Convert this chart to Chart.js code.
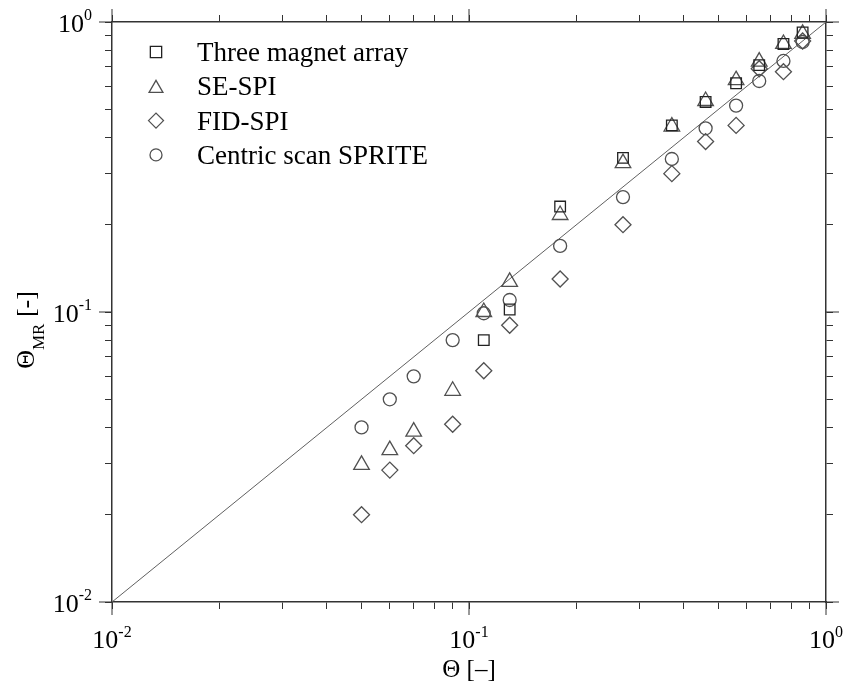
<!DOCTYPE html>
<html>
<head>
<meta charset="utf-8">
<script src="https://cdn.jsdelivr.net/npm/chart.js@4.4.1/dist/chart.umd.min.js"></script>
<style>
  html, body { margin: 0; padding: 0; background: #fff; }
  canvas { display: block; }
</style>
</head>
<body>
<canvas id="chart" width="848" height="688"></canvas>
<script>
// values
const seriesNames = ['Three magnet array', 'SE-SPI', 'FID-SPI', 'Centric scan SPRITE'];
const xMagnet = [0.11, 0.13, 0.18, 0.27, 0.37, 0.46, 0.56, 0.65, 0.76, 0.86];
const yMagnet = [0.080, 0.102, 0.231, 0.340, 0.440, 0.530, 0.615, 0.710, 0.840, 0.920];
const xSeSpi = [0.05, 0.06, 0.07, 0.09, 0.11, 0.13, 0.18, 0.27, 0.37, 0.46, 0.56, 0.65, 0.76, 0.86];
const ySeSpi = [0.0297, 0.0334, 0.0387, 0.0535, 0.100, 0.127, 0.216, 0.326, 0.436, 0.534, 0.630, 0.730, 0.840, 0.910];
const xFidSpi = [0.05, 0.06, 0.07, 0.09, 0.11, 0.13, 0.18, 0.27, 0.37, 0.46, 0.56, 0.65, 0.76, 0.86];
const yFidSpi = [0.020, 0.0285, 0.0346, 0.041, 0.0627, 0.090, 0.130, 0.200, 0.300, 0.387, 0.440, 0.690, 0.674, 0.860];
const xSprite = [0.05, 0.06, 0.07, 0.09, 0.11, 0.13, 0.18, 0.27, 0.37, 0.46, 0.56, 0.65, 0.76, 0.86];
const ySprite = [0.040, 0.050, 0.060, 0.080, 0.099, 0.110, 0.169, 0.249, 0.337, 0.430, 0.515, 0.626, 0.734, 0.853];
const refLine = [0.01, 1];          // y = x
const decades = [0.01, 0.1, 1];
const decadeExp = ['-2', '-1', '0'];

const FONT = '"Liberation Serif", "Times New Roman", serif';
const AXIS = '#333';
const MARK = '#505050';

const pts = (xs, ys) => xs.map((x, i) => ({ x, y: ys[i] }));

const styles = [
  { pointStyle: 'rect', radius: 7.5, color: '#222', legendRadius: 8 },
  { pointStyle: 'triangle', radius: 9, color: MARK, legendRadius: 8 },
  { pointStyle: 'rectRot', radius: 8, color: MARK, legendRadius: 7.5 },
  { pointStyle: 'circle', radius: 6.5, color: MARK, legendRadius: 6 }
];
const seriesData = [pts(xMagnet, yMagnet), pts(xSeSpi, ySeSpi), pts(xFidSpi, yFidSpi), pts(xSprite, ySprite)];

// 1..9 x 10^n tick positions
function logTicks() {
  const t = [];
  for (let e = -2; e < 0; e++) for (let m = 1; m < 10; m++) t.push({ value: +(m * Math.pow(10, e)).toPrecision(3) });
  t.push({ value: 1 });
  return t;
}

function logAxis(position, size) {
  return {
    type: 'logarithmic',
    position,
    min: 0.01,
    max: 1,
    display: true,
    afterBuildTicks: (s) => { s.ticks = logTicks(); },
    afterFit: (s) => { if (s.isHorizontal()) s.height = size; else s.width = size; },
    border: { display: true, color: AXIS, width: 1.5 },
    grid: { drawOnChartArea: false, drawTicks: true, tickLength: 7, tickColor: AXIS, tickWidth: 1 },
    ticks: { display: false, autoSkip: false }
  };
}

const datasets = seriesNames.map((name, i) => ({
  label: name,
  data: seriesData[i],
  showLine: false,
  pointStyle: styles[i].pointStyle,
  pointRadius: styles[i].radius,
  pointBorderColor: styles[i].color,
  pointBackgroundColor: 'rgba(0,0,0,0)',
  pointBorderWidth: 1.3
}));
datasets.push({
  type: 'line',
  label: 'y = x',
  data: refLine.map(v => ({ x: v, y: v })),
  borderColor: '#606060',
  borderWidth: 1,
  pointRadius: 0
});

// decade labels with superscripts, major ticks, y title with subscript, legend
const decor = {
  id: 'decor',
  afterDraw(chart) {
    const ctx = chart.ctx;
    const { x, y } = chart.scales;
    const area = chart.chartArea;
    ctx.save();
    ctx.strokeStyle = AXIS;
    ctx.lineWidth = 1;
    ctx.fillStyle = '#000';
    decades.forEach((v, i) => {
      const px = x.getPixelForValue(v);
      const py = y.getPixelForValue(v);
      ctx.beginPath();
      ctx.moveTo(px, area.bottom); ctx.lineTo(px, area.bottom + 13);
      ctx.moveTo(px, area.top); ctx.lineTo(px, area.top - 13);
      ctx.moveTo(area.left, py); ctx.lineTo(area.left - 13, py);
      ctx.moveTo(area.right, py); ctx.lineTo(area.right + 13, py);
      ctx.stroke();

      ctx.font = '26px ' + FONT;
      const wBase = ctx.measureText('10').width;
      ctx.font = '16px ' + FONT;
      const wExp = ctx.measureText(decadeExp[i]).width;
      // bottom axis
      let sx = px - (wBase + wExp) / 2;
      ctx.textAlign = 'left';
      ctx.textBaseline = 'alphabetic';
      ctx.font = '26px ' + FONT;
      ctx.fillText('10', sx, area.bottom + 46);
      ctx.font = '16px ' + FONT;
      ctx.fillText(decadeExp[i], sx + wBase, area.bottom + 35);
      // left axis
      sx = area.left - 20 - (wBase + wExp);
      ctx.font = '26px ' + FONT;
      ctx.fillText('10', sx, py + 10);
      ctx.font = '16px ' + FONT;
      ctx.fillText(decadeExp[i], sx + wBase, py - 2);
    });

    // y title: Θ_MR [-]
    ctx.save();
    ctx.translate(34, (area.top + area.bottom) / 2 + 18);
    ctx.rotate(-Math.PI / 2);
    ctx.font = '26px ' + FONT;
    const wT = ctx.measureText('Θ').width;
    ctx.font = '17px ' + FONT;
    const wS = ctx.measureText('MR').width;
    ctx.font = '26px ' + FONT;
    const wR = ctx.measureText(' [-]').width;
    let tx = -(wT + wS + wR) / 2;
    ctx.fillText('Θ', tx, 0);
    ctx.font = '17px ' + FONT;
    ctx.fillText('MR', tx + wT, 10);
    ctx.font = '26px ' + FONT;
    ctx.fillText(' [-]', tx + wT + wS, 0);
    ctx.restore();

    // legend inside the plot
    const lx = area.left + 44, ly = area.top + 30, step = 34.3;
    seriesNames.forEach((name, i) => {
      const cy = ly + i * step;
      ctx.strokeStyle = styles[i].color;
      ctx.fillStyle = 'rgba(0,0,0,0)';
      ctx.lineWidth = 1.3;
      Chart.helpers.drawPoint(ctx, {
        pointStyle: styles[i].pointStyle,
        radius: styles[i].legendRadius,
        rotation: 0,
        borderWidth: 1.3
      }, lx, cy + (styles[i].pointStyle === 'triangle' ? 2 : 0));
      ctx.fillStyle = '#000';
      ctx.font = '27px ' + FONT;
      ctx.fillText(name, area.left + 85, cy + 9);
    });
    ctx.restore();
  }
};

const bottomX = logAxis('bottom', 86);
bottomX.title = { display: true, text: 'Θ [–]', color: '#000', font: { family: FONT, size: 25 }, padding: { top: 0, bottom: 3 } };

new Chart(document.getElementById('chart').getContext('2d'), {
  type: 'scatter',
  data: { datasets },
  options: {
    responsive: false,
    animation: false,
    layout: { padding: 0 },
    scales: {
      x: bottomX,
      x2: logAxis('top', 22),
      y: logAxis('left', 112),
      y2: logAxis('right', 22)
    },
    plugins: {
      legend: { display: false },
      tooltip: { enabled: false }
    }
  },
  plugins: [decor]
});
</script>
</body>
</html>
